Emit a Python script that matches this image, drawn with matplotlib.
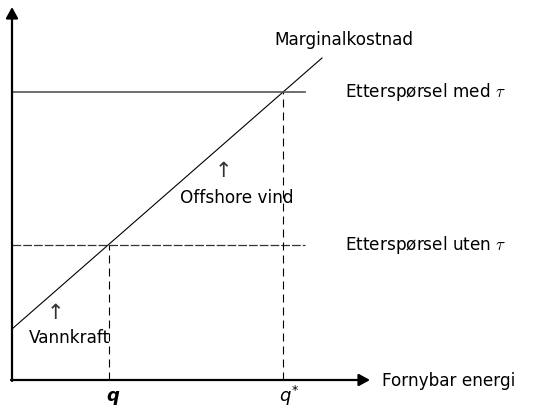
import matplotlib
matplotlib.use('Agg')
import matplotlib.pyplot as plt

# data (origin at the axis corner, 1 unit = 1 px)
mc_x = [0, 310]
mc_y = [51, 322]
demand_tau = 288
demand_no_tau = 135
line_end = 293
q = 97
q_star = 271
x_axis_len = 358
y_axis_len = 373


def main() -> None:
    plt.rcParams['font.family'] = ['DejaVu Sans']
    plt.rcParams['mathtext.fontset'] = 'cm'
    fig = plt.figure(figsize=(5.46, 4.09), dpi=100)
    ax = fig.add_axes([0, 0, 1, 1])
    ax.set_xlim(-12, 534)
    ax.set_ylim(-29, 380)
    ax.axis('off')

    # axes with arrows
    head = '-|>,head_length=0.55,head_width=0.3'
    ax.annotate('', xy=(x_axis_len, 0), xytext=(-1, 0),
                arrowprops=dict(arrowstyle=head, lw=1.6, color='black',
                                mutation_scale=12, shrinkA=0, shrinkB=0))
    ax.annotate('', xy=(0, y_axis_len), xytext=(0, -1),
                arrowprops=dict(arrowstyle=head, lw=1.6, color='black',
                                mutation_scale=12, shrinkA=0, shrinkB=0))

    # marginal cost
    ax.plot(mc_x, mc_y, color='black', lw=0.8)
    # demand lines
    ax.plot([0, line_end], [demand_tau, demand_tau], color='#555555', lw=1.2)
    ax.plot([0, line_end], [demand_no_tau, demand_no_tau], color='#333333',
            lw=0.9, dashes=(7, 1.6))
    # vertical dashed
    ax.plot([q, q], [0, demand_no_tau], color='black', lw=0.8, dashes=(7.2, 4.5))
    ax.plot([q_star, q_star], [0, demand_tau], color='black', lw=0.8, dashes=(7.2, 4.5))

    fs = 12.2
    ax.text(262, 340, 'Marginalkostnad', fontsize=fs, ha='left', va='center')
    ax.text(333, demand_tau, r'Etterspørsel med $\tau$', fontsize=fs, ha='left', va='center')
    ax.text(333, demand_no_tau, r'Etterspørsel uten $\tau$', fontsize=fs, ha='left',
            va='center', fontweight='medium')
    ax.text(211, 209, '↑', fontsize=15, ha='center', va='center', color='#333333')
    ax.text(225, 182, 'Offshore vind', fontsize=fs, ha='center', va='center')
    ax.text(43, 67, '↑', fontsize=15, ha='center', va='center', color='#333333')
    ax.text(57, 42, 'Vannkraft', fontsize=fs, ha='center', va='center')
    ax.text(370, -1, 'Fornybar energi', fontsize=fs, ha='left', va='center')
    ax.text(q + 4, -16, 'q', fontsize=13, ha='center', va='center',
            fontstyle='italic', fontweight='bold')
    ax.text(q_star + 6, -16, r'$q^{*}$', fontsize=13, ha='center', va='center',
            math_fontfamily='dejavusans')

    fig.savefig('out.png', dpi=100)


if __name__ == '__main__':
    main()
